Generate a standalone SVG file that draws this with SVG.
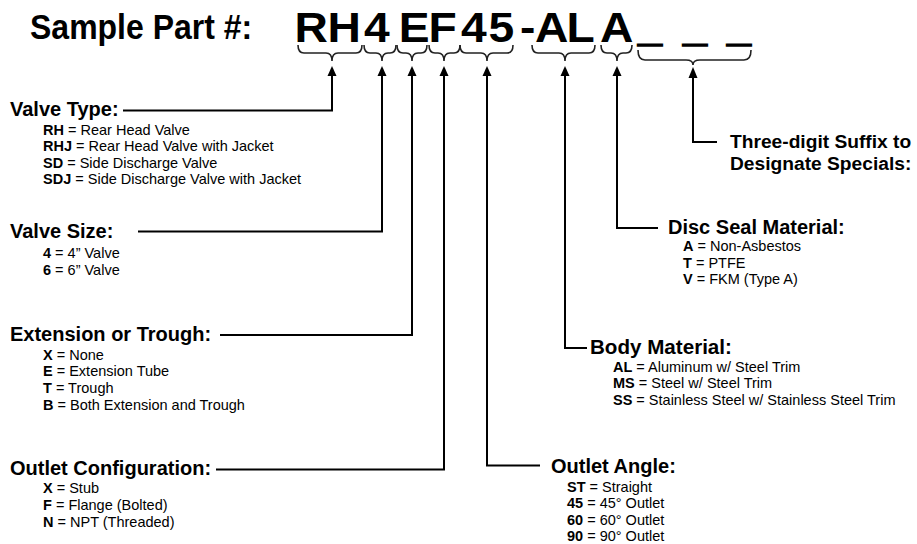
<svg xmlns="http://www.w3.org/2000/svg" width="917" height="544" viewBox="0 0 917 544">
<style>
text{font-family:"Liberation Sans",Arial,sans-serif;fill:#000}
.title{font-size:32px;font-weight:bold}
.pn{font-size:42px;font-weight:bold}
.us{font-size:43px;font-weight:bold;stroke:#000;stroke-width:1.6}
.h{font-size:20px;font-weight:bold}
.hs{font-size:19.2px;font-weight:bold}
.b{font-size:14.5px}
.k{font-weight:bold}
.ln{fill:none;stroke:#000;stroke-width:2}
.br{fill:none;stroke:#222;stroke-width:1.6}
.ar{fill:#000}
</style>
<rect width="917" height="544" fill="#fff"/>
<g id="title">
<text class="title" x="30" y="34.4" transform="matrix(1 0 0 1.12 0 0)">Sample Part #:</text>
<text class="pn" transform="matrix(1.1 0 0 1 0 0)" x="267.8 297.8 331.0 362.4 389.6 419.2 444.2 472.7 486.4 515.1 545.5" y="42">RH4EF45-ALA</text>
<text class="us" x="638 683 727" y="41">___</text>
</g>
<g id="connectors">
<path class="br" d="M298,45 Q298,53 304,53 L326,53 Q332,53 332,61 Q332,53 338,53 L356,53 Q362,53 362,45"/>
<path class="br" d="M364,45 Q364,53 370,53 L376,53 Q382,53 382,61 Q382,53 388,53 L390,53 Q396,53 396,45"/>
<path class="br" d="M397,45 Q397,53 403,53 L406,53 Q412,53 412,61 Q412,53 418,53 L421,53 Q427,53 427,45"/>
<path class="br" d="M429,45 Q429,53 435,53 L438,53 Q444,53 444,61 Q444,53 450,53 L454,53 Q460,53 460,45"/>
<path class="br" d="M460,45 Q460,53 466,53 L481,53 Q487,53 487,61 Q487,53 493,53 L507,53 Q513,53 513,45"/>
<path class="br" d="M532,45 Q532,53 538,53 L559,53 Q565,53 565,61 Q565,53 571,53 L589,53 Q595,53 595,45"/>
<path class="br" d="M601,45 Q601,53 607,53 L611,53 Q617,53 617,61 Q617,53 623,53 L626,53 Q632,53 632,45"/>
<path class="br" d="M638,50 Q638,60 645,60 L686,60 Q693,60 693,65 Q693,60 700,60 L744,60 Q751,60 751,50"/>
<polygon class="ar" points="332,66 327.5,76 336.5,76"/>
<polygon class="ar" points="382,66 377.5,76 386.5,76"/>
<polygon class="ar" points="412,66 407.5,76 416.5,76"/>
<polygon class="ar" points="444,66 439.5,76 448.5,76"/>
<polygon class="ar" points="487,66 482.5,76 491.5,76"/>
<polygon class="ar" points="565,66 560.5,76 569.5,76"/>
<polygon class="ar" points="617,66 612.5,76 621.5,76"/>
<polygon class="ar" points="693,67 688.5,78 697.5,78"/>
<path class="ln" d="M332,75 V110.5 H123"/>
<path class="ln" d="M382,75 V231.5 H138"/>
<path class="ln" d="M412,75 V335 H220"/>
<path class="ln" d="M444,75 V469.5 H216"/>
<path class="ln" d="M487,75 V465.5 H540"/>
<path class="ln" d="M565,75 V348 H587"/>
<path class="ln" d="M617,75 V228 H658"/>
<path class="ln" d="M693,77 V142 H717"/>
</g>
<g id="valve-type">
<text class="h" x="10" y="116">Valve Type:</text>
<text class="b" x="43" y="134.5"><tspan class="k">RH</tspan> = Rear Head Valve</text>
<text class="b" x="43" y="151"><tspan class="k">RHJ</tspan> = Rear Head Valve with Jacket</text>
<text class="b" x="43" y="167.5"><tspan class="k">SD</tspan> = Side Discharge Valve</text>
<text class="b" x="43" y="184"><tspan class="k">SDJ</tspan> = Side Discharge Valve with Jacket</text>
</g>
<g id="valve-size">
<text class="h" x="10" y="238">Valve Size:</text>
<text class="b" x="43" y="258"><tspan class="k">4</tspan> = 4” Valve</text>
<text class="b" x="43" y="275"><tspan class="k">6</tspan> = 6” Valve</text>
</g>
<g id="extension-trough">
<text class="h" x="10" y="341">Extension or Trough:</text>
<text class="b" x="43" y="359.5"><tspan class="k">X</tspan> = None</text>
<text class="b" x="43" y="376.3"><tspan class="k">E</tspan> = Extension Tube</text>
<text class="b" x="43" y="393.1"><tspan class="k">T</tspan> = Trough</text>
<text class="b" x="43" y="410"><tspan class="k">B</tspan> = Both Extension and Trough</text>
</g>
<g id="outlet-configuration">
<text class="h" x="10" y="474.5">Outlet Configuration:</text>
<text class="b" x="43" y="492.5"><tspan class="k">X</tspan> = Stub</text>
<text class="b" x="43" y="509.5"><tspan class="k">F</tspan> = Flange (Bolted)</text>
<text class="b" x="43" y="526.5"><tspan class="k">N</tspan> = NPT (Threaded)</text>
</g>
<g id="outlet-angle">
<text class="h" x="551" y="473">Outlet Angle:</text>
<text class="b" x="567" y="492"><tspan class="k">ST</tspan> = Straight</text>
<text class="b" x="567" y="508.3"><tspan class="k">45</tspan> = 45° Outlet</text>
<text class="b" x="567" y="524.6"><tspan class="k">60</tspan> = 60° Outlet</text>
<text class="b" x="567" y="541"><tspan class="k">90</tspan> = 90° Outlet</text>
</g>
<g id="body-material">
<text class="h" x="590" y="353.5" style="font-size:20.6px">Body Material:</text>
<text class="b" x="613" y="371.5"><tspan class="k">AL</tspan> = Aluminum w/ Steel Trim</text>
<text class="b" x="613" y="388"><tspan class="k">MS</tspan> = Steel w/ Steel Trim</text>
<text class="b" x="613" y="404.5"><tspan class="k">SS</tspan> = Stainless Steel w/ Stainless Steel Trim</text>
</g>
<g id="disc-seal-material">
<text class="h" x="668" y="233.5">Disc Seal Material:</text>
<text class="b" x="683" y="251"><tspan class="k">A</tspan> = Non-Asbestos</text>
<text class="b" x="683" y="267.5"><tspan class="k">T</tspan> = PTFE</text>
<text class="b" x="683" y="284"><tspan class="k">V</tspan> = FKM (Type A)</text>
</g>
<g id="suffix">
<text class="hs" x="730" y="147.5">Three-digit Suffix to</text>
<text class="hs" x="730" y="170">Designate Specials:</text>
</g>
</svg>
